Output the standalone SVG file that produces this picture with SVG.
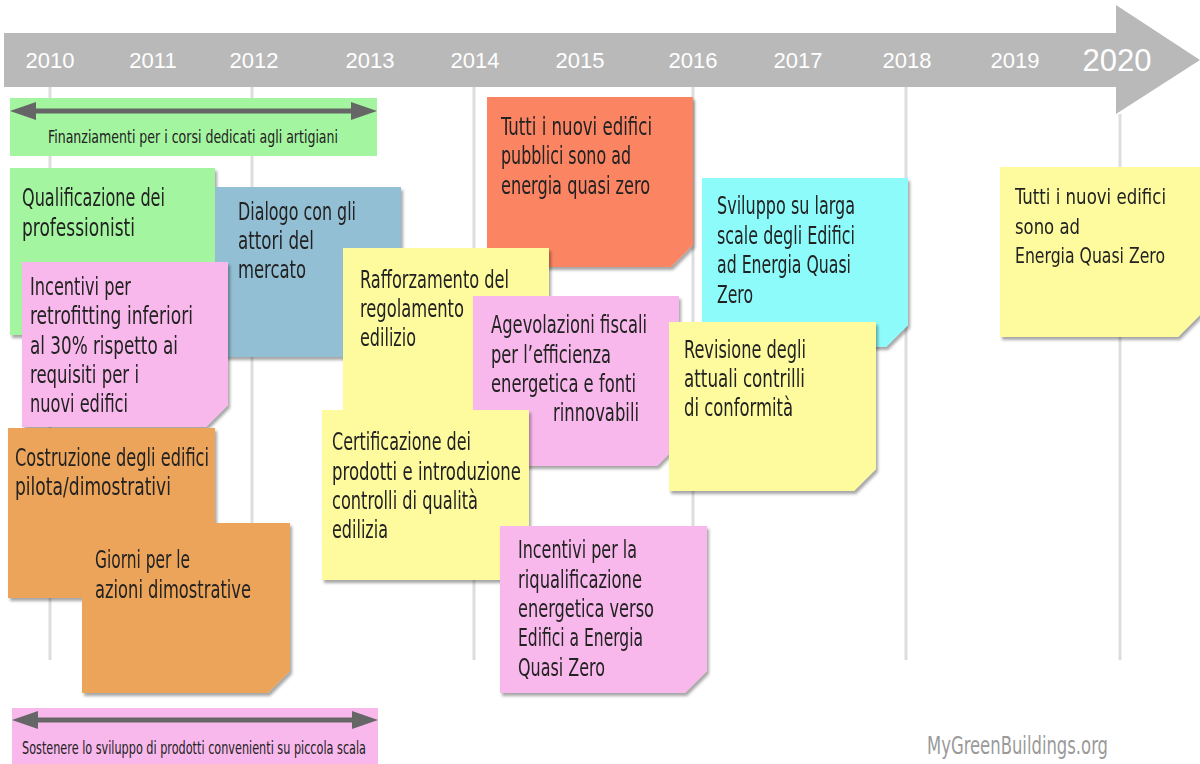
<svg xmlns="http://www.w3.org/2000/svg" width="1200" height="764" viewBox="0 0 1200 764">
<style>
.yr{font-family:"Liberation Sans",Arial,sans-serif;font-size:22px;fill:#ffffff;text-anchor:middle}
.t{font-family:"Liberation Sans Narrow","DejaVu Sans Condensed","Liberation Sans",sans-serif;font-size:24px;fill:#222222}
.s{font-family:"Liberation Sans Narrow","DejaVu Sans Condensed","Liberation Sans",sans-serif;font-size:17px;fill:#222222}
.grid{stroke:#dddddd;stroke-width:3}
.green{fill:#a4f5a0}
.blue{fill:#93bfd4}
.pink{fill:#f8b8ec}
.orange{fill:#eca45a}
.salmon{fill:#fb8464}
.yellow{fill:#fdfb9d}
.cyan{fill:#8efbfb}
.note{filter:url(#sh)}
.dbl{fill:#666666}
</style>
<defs>
<filter id="sh" x="-5%" y="-5%" width="115%" height="115%">
<feDropShadow dx="2" dy="3" stdDeviation="1.5" flood-color="#000000" flood-opacity="0.35"/>
</filter>
</defs>
<rect width="1200" height="764" fill="#ffffff"/>
<g id="timeline">
<polygon points="4,33 1116,33 1116,5 1200,60 1116,114 1116,87 4,87" fill="#b9b9b9"/>
<line class="grid" x1="50" y1="87" x2="50" y2="660"/>
<line class="grid" x1="252" y1="87" x2="252" y2="660"/>
<line class="grid" x1="474" y1="87" x2="474" y2="660"/>
<line class="grid" x1="693" y1="87" x2="693" y2="660"/>
<line class="grid" x1="906" y1="87" x2="906" y2="660"/>
<line class="grid" x1="1120" y1="114" x2="1120" y2="660"/>
<text class="yr" x="50" y="68">2010</text>
<text class="yr" x="153" y="68">2011</text>
<text class="yr" x="254" y="68">2012</text>
<text class="yr" x="370" y="68">2013</text>
<text class="yr" x="475" y="68">2014</text>
<text class="yr" x="580" y="68">2015</text>
<text class="yr" x="693" y="68">2016</text>
<text class="yr" x="798" y="68">2017</text>
<text class="yr" x="907" y="68">2018</text>
<text class="yr" x="1015" y="68">2019</text>
<text class="yr" x="1117" y="71" style="font-size:31px">2020</text>
</g>
<g id="connectors">
<g id="bar-finanziamenti">
<rect class="green" x="10" y="98" width="367" height="58"/>
<rect class="dbl" x="30" y="108.5" width="327" height="5"/>
<polygon class="dbl" points="10,111 36,102 36,120"/>
<polygon class="dbl" points="377,111 351,102 351,120"/>
<text class="s" x="48" y="143" textLength="290" lengthAdjust="spacingAndGlyphs">Finanziamenti per i corsi dedicati agli artigiani</text>
</g>
<g id="bar-sostenere">
<rect class="pink" x="12" y="708" width="366" height="56"/>
<rect class="dbl" x="32" y="717.5" width="326" height="5"/>
<polygon class="dbl" points="12,720 38,711 38,729"/>
<polygon class="dbl" points="378,720 352,711 352,729"/>
<text class="s" x="22" y="754" textLength="344" lengthAdjust="spacingAndGlyphs">Sostenere lo sviluppo di prodotti convenienti su piccola scala</text>
</g>
</g>
<g id="n-qualificazione" class="note">
<path class="green" d="M10,168 h205 v145 l-22,22 h-183 z"/>
<text class="t"><tspan x="22" y="206" textLength="143" lengthAdjust="spacingAndGlyphs">Qualificazione dei</tspan><tspan x="22" y="236" textLength="113" lengthAdjust="spacingAndGlyphs">professionisti</tspan></text>
</g>
<g id="n-dialogo" class="note">
<path class="blue" d="M215,187 h186 v148 l-22,22 h-164 z"/>
<text class="t"><tspan x="238" y="220" textLength="118" lengthAdjust="spacingAndGlyphs">Dialogo con gli</tspan><tspan x="238" y="249" textLength="76" lengthAdjust="spacingAndGlyphs">attori del</tspan><tspan x="238" y="278" textLength="68" lengthAdjust="spacingAndGlyphs">mercato</tspan></text>
</g>
<g id="n-incentivi-retrofit" class="note">
<path class="pink" d="M22,262 h206 v143 l-22,22 h-184 z"/>
<text class="t"><tspan x="30" y="295" textLength="101" lengthAdjust="spacingAndGlyphs">Incentivi per</tspan><tspan x="30" y="324" textLength="163" lengthAdjust="spacingAndGlyphs">retrofitting inferiori</tspan><tspan x="30" y="354" textLength="148" lengthAdjust="spacingAndGlyphs">al 30% rispetto ai</tspan><tspan x="30" y="383" textLength="109" lengthAdjust="spacingAndGlyphs">requisiti per i</tspan><tspan x="30" y="412" textLength="98" lengthAdjust="spacingAndGlyphs">nuovi edifici</tspan></text>
</g>
<g id="n-costruzione" class="note">
<path class="orange" d="M8,428 h207 v148 l-22,22 h-185 z"/>
<text class="t"><tspan x="15" y="466" textLength="194" lengthAdjust="spacingAndGlyphs">Costruzione degli edifici</tspan><tspan x="15" y="495" textLength="156" lengthAdjust="spacingAndGlyphs">pilota/dimostrativi</tspan></text>
</g>
<g id="n-giorni" class="note">
<path class="orange" d="M82,523 h208 v148 l-22,22 h-186 z"/>
<text class="t"><tspan x="95" y="568" textLength="95" lengthAdjust="spacingAndGlyphs">Giorni per le</tspan><tspan x="95" y="598" textLength="156" lengthAdjust="spacingAndGlyphs">azioni dimostrative</tspan></text>
</g>
<g id="n-tutti-pubblici" class="note">
<path class="salmon" d="M487,97 h206 v148 l-22,22 h-184 z"/>
<text class="t"><tspan x="501" y="135" textLength="151" lengthAdjust="spacingAndGlyphs">Tutti i nuovi edifici</tspan><tspan x="501" y="164" textLength="130" lengthAdjust="spacingAndGlyphs">pubblici sono ad</tspan><tspan x="501" y="194" textLength="149" lengthAdjust="spacingAndGlyphs">energia quasi zero</tspan></text>
</g>
<g id="n-rafforzamento" class="note">
<path class="yellow" d="M343,248 h206 v145 l-22,22 h-184 z"/>
<text class="t"><tspan x="360" y="288" textLength="149" lengthAdjust="spacingAndGlyphs">Rafforzamento del</tspan><tspan x="360" y="317" textLength="104" lengthAdjust="spacingAndGlyphs">regolamento</tspan><tspan x="360" y="346" textLength="56" lengthAdjust="spacingAndGlyphs">edilizio</tspan></text>
</g>
<g id="n-agevolazioni" class="note">
<path class="pink" d="M473,296 h206 v148 l-22,22 h-184 z"/>
<text class="t"><tspan x="491" y="333" textLength="156" lengthAdjust="spacingAndGlyphs">Agevolazioni fiscali</tspan><tspan x="491" y="363" textLength="120" lengthAdjust="spacingAndGlyphs">per l’efficienza</tspan><tspan x="491" y="392" textLength="145" lengthAdjust="spacingAndGlyphs">energetica e fonti</tspan><tspan x="553" y="421" textLength="86" lengthAdjust="spacingAndGlyphs">rinnovabili</tspan></text>
</g>
<g id="n-certificazione" class="note">
<path class="yellow" d="M322,410 h207 v148 l-22,22 h-185 z"/>
<text class="t"><tspan x="332" y="450" textLength="139" lengthAdjust="spacingAndGlyphs">Certificazione dei</tspan><tspan x="332" y="480" textLength="189" lengthAdjust="spacingAndGlyphs">prodotti e introduzione</tspan><tspan x="332" y="509" textLength="146" lengthAdjust="spacingAndGlyphs">controlli di qualità</tspan><tspan x="332" y="538" textLength="56" lengthAdjust="spacingAndGlyphs">edilizia</tspan></text>
</g>
<g id="n-incentivi-riqualificazione" class="note">
<path class="pink" d="M500,526 h207 v145 l-22,22 h-185 z"/>
<text class="t"><tspan x="518" y="558" textLength="119" lengthAdjust="spacingAndGlyphs">Incentivi per la</tspan><tspan x="518" y="588" textLength="124" lengthAdjust="spacingAndGlyphs">riqualificazione</tspan><tspan x="518" y="617" textLength="136" lengthAdjust="spacingAndGlyphs">energetica verso</tspan><tspan x="518" y="646" textLength="125" lengthAdjust="spacingAndGlyphs">Edifici a Energia</tspan><tspan x="518" y="676" textLength="87" lengthAdjust="spacingAndGlyphs">Quasi Zero</tspan></text>
</g>
<g id="n-sviluppo" class="note">
<path class="cyan" d="M702,178 h206 v147 l-22,22 h-184 z"/>
<text class="t"><tspan x="717" y="214" textLength="138" lengthAdjust="spacingAndGlyphs">Sviluppo su larga</tspan><tspan x="717" y="244" textLength="138" lengthAdjust="spacingAndGlyphs">scale degli Edifici</tspan><tspan x="717" y="273" textLength="134" lengthAdjust="spacingAndGlyphs">ad Energia Quasi</tspan><tspan x="717" y="303" textLength="36" lengthAdjust="spacingAndGlyphs">Zero</tspan></text>
</g>
<g id="n-revisione" class="note">
<path class="yellow" d="M669,322 h207 v147 l-22,22 h-185 z"/>
<text class="t"><tspan x="684" y="358" textLength="122" lengthAdjust="spacingAndGlyphs">Revisione degli</tspan><tspan x="684" y="387" textLength="121" lengthAdjust="spacingAndGlyphs">attuali contrilli</tspan><tspan x="684" y="416" textLength="109" lengthAdjust="spacingAndGlyphs">di conformità</tspan></text>
</g>
<g id="n-tutti-nuovi" class="note">
<path class="yellow" d="M1000,167 h200 v148 l-22,22 h-178 z"/>
<text class="t" style="font-size:21px"><tspan x="1015" y="204" textLength="151" lengthAdjust="spacingAndGlyphs">Tutti i nuovi edifici</tspan><tspan x="1015" y="234" textLength="65" lengthAdjust="spacingAndGlyphs">sono ad</tspan><tspan x="1015" y="263" textLength="150" lengthAdjust="spacingAndGlyphs">Energia Quasi Zero</tspan></text>
</g>
<g id="watermark">
<text class="t" x="927" y="754" textLength="181" lengthAdjust="spacingAndGlyphs" style="fill:#9a9a9a">MyGreenBuildings.org</text>
</g>
</svg>
